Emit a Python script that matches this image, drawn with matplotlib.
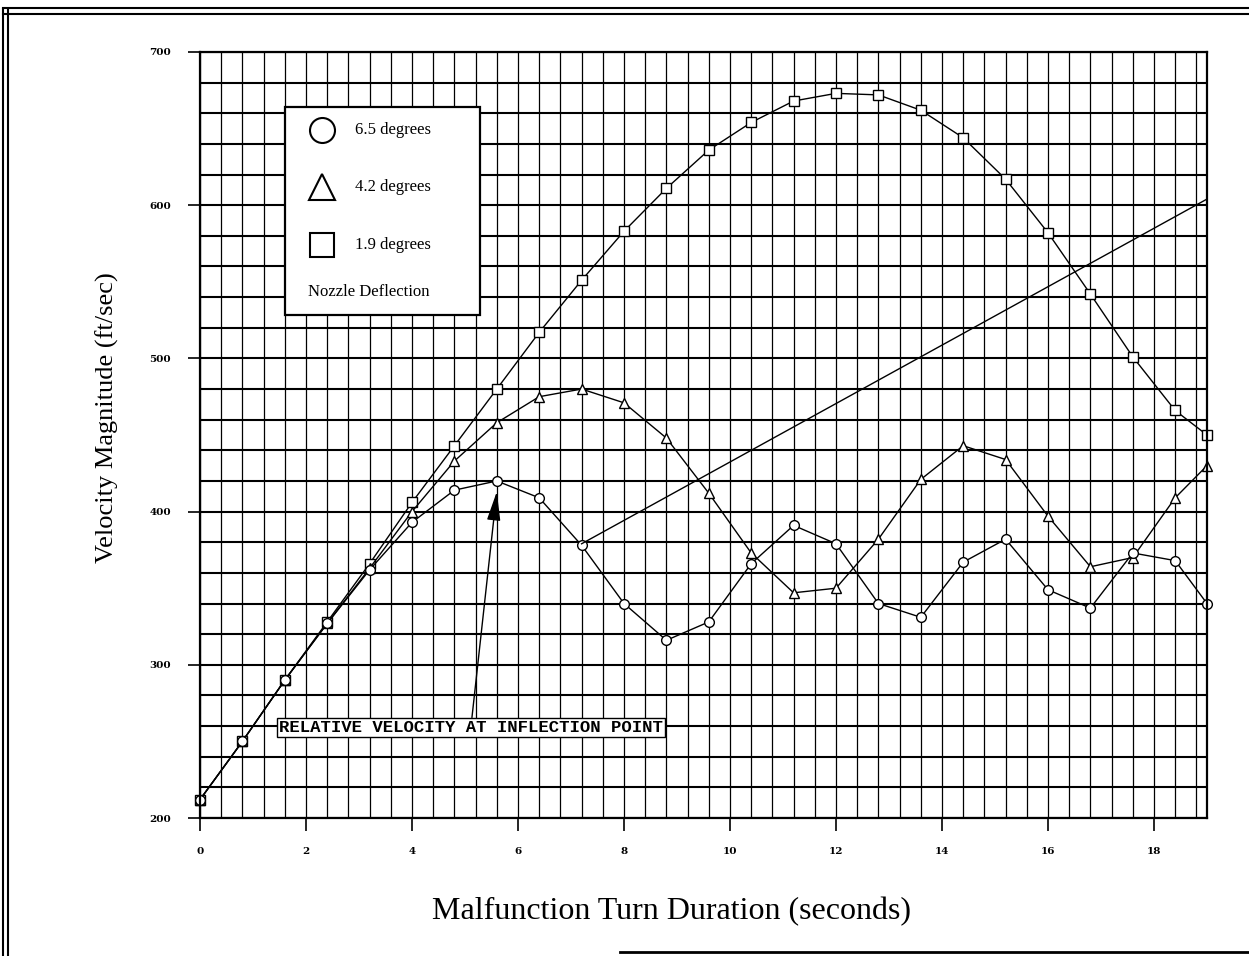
import matplotlib
matplotlib.use("Agg")
import matplotlib.pyplot as plt
from matplotlib.ticker import MultipleLocator
from matplotlib.patches import Rectangle
from matplotlib.lines import Line2D

# =========================
# DATA
# =========================
t = [0, 0.8, 1.6, 2.4, 3.2, 4.0, 4.8, 5.6, 6.4, 7.2, 8.0, 8.8, 9.6,
     10.4, 11.2, 12.0, 12.8, 13.6, 14.4, 15.2, 16.0, 16.8, 17.6, 18.4, 19.0]

v_65 = [212, 250, 290, 327, 362, 393, 414, 420, 409, 378, 340, 316, 328,
        366, 391, 379, 340, 331, 367, 382, 349, 337, 373, 368, 340]
v_42 = [212, 250, 290, 327, 363, 400, 433, 458, 475, 480, 471, 448, 412,
        373, 347, 350, 382, 421, 443, 434, 397, 364, 370, 409, 430]
v_19 = [212, 250, 290, 328, 366, 406, 443, 480, 517, 551, 583, 611, 636,
        654, 668, 673, 672, 662, 644, 617, 582, 542, 501, 466, 450]

rel_t = [7.2, 19.0]
rel_v = [379, 604]

legend_labels = ["6.5 degrees", "4.2 degrees", "1.9 degrees"]
legend_title = "Nozzle Deflection"
note = "RELATIVE VELOCITY AT INFLECTION POINT"
note_xy = (5.6, 413)
note_text_xy = (5.11, 259)

# =========================
# FIGURE
# =========================
fig = plt.figure(figsize=(12.49, 9.56), dpi=100)
ax = fig.add_axes([200 / 1249, 1 - 818 / 956, 1007 / 1249, 766 / 956])

ax.set_xlim(0, 19)
ax.set_ylim(200, 700)
ax.xaxis.set_major_locator(MultipleLocator(2))
ax.xaxis.set_minor_locator(MultipleLocator(0.4))
ax.yaxis.set_major_locator(MultipleLocator(100))
ax.yaxis.set_minor_locator(MultipleLocator(20))

ax.grid(True, axis="y", which="both", color="black", lw=1.5)
ax.grid(True, axis="x", which="both", color="black", lw=0.9)
ax.set_axisbelow(True)
ax.tick_params(which="minor", length=0)
ax.tick_params(which="major", direction="out", length=9, width=1.2,
               labelsize=7.5, pad=12)
for lab in ax.get_xticklabels() + ax.get_yticklabels():
    lab.set_fontweight("bold")
    lab.set_family("DejaVu Serif")
for s in ax.spines.values():
    s.set_linewidth(1.6)

mk = dict(color="black", lw=1.0, mfc="white", mec="black", mew=1.0,
          clip_on=False)
ax.plot(t, v_19, marker="s", ms=6.5, **mk)
ax.plot(t, v_42, marker="^", ms=7, **mk)
ax.plot(t, v_65, marker="o", ms=7, **mk)
ax.plot(rel_t, rel_v, color="black", lw=1.0)

# annotation
ax.annotate(note, xy=note_xy, xytext=note_text_xy, ha="center", va="center",
            fontsize=12.5, fontweight="bold", family="Liberation Mono",
            bbox=dict(boxstyle="square,pad=0.12", fc="white", ec="black", lw=1.0),
            arrowprops=dict(arrowstyle="-|>,head_length=1.5,head_width=0.35",
                            color="black", lw=1.0, mutation_scale=12,
                            shrinkA=0, shrinkB=0),
            zorder=6)

# legend box (drawn by hand to keep the caption at the bottom)
ax.add_patch(Rectangle((0.0844, 0.6567), 0.1936, 0.2713, transform=ax.transAxes,
                       fc="white", ec="black", lw=1.6, zorder=7))
leg_marks = ["o", "^", "s"]
leg_sizes = [18, 19, 17]
leg_y = [0.8982, 0.8238, 0.7480]
for m, s_, yy, lab in zip(leg_marks, leg_sizes, leg_y, legend_labels):
    ax.add_line(Line2D([0.1212], [yy], marker=m, ms=s_, mfc="white",
                       mec="black", mew=1.5, transform=ax.transAxes, zorder=8))
    ax.text(0.154, yy, lab, transform=ax.transAxes, va="center", ha="left",
            fontsize=12, family="Liberation Serif", zorder=8)
ax.text(0.1072, 0.6867, legend_title, transform=ax.transAxes, va="center",
        ha="left", fontsize=12, family="Liberation Serif", zorder=8)

fig.text(672 / 1249, 1 - 912 / 956, "Malfunction Turn Duration (seconds)",
         ha="center", va="center", fontsize=23, family="Liberation Serif")
fig.text(107 / 1249, 1 - 418 / 956, "Velocity Magnitude (ft/sec)",
         ha="center", va="center", rotation=90, fontsize=19,
         family="Liberation Serif")

# page border of the scan
for xx in (3 / 1249, 8 / 1249):
    fig.add_artist(Line2D([xx, xx], [0, 1 - 9 / 956], color="black", lw=1.5,
                          transform=fig.transFigure))
for yy in (1 - 8 / 956, 1 - 14 / 956):
    fig.add_artist(Line2D([3 / 1249, 1], [yy, yy], color="black", lw=1.5,
                          transform=fig.transFigure))
fig.add_artist(Line2D([620 / 1249, 1], [1 - 952 / 956] * 2, color="black",
                      lw=2, transform=fig.transFigure))

fig.savefig("out.png", dpi=100)
